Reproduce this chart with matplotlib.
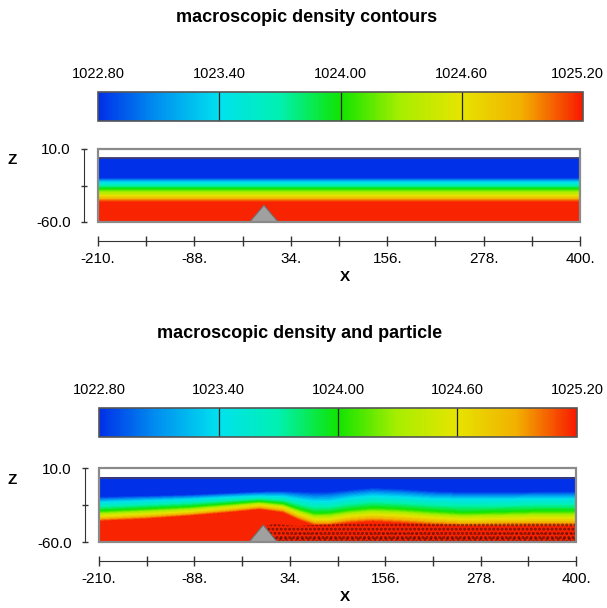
import numpy as np
import matplotlib
matplotlib.use('Agg')
import matplotlib.pyplot as plt
from matplotlib.colors import LinearSegmentedColormap, Normalize
from matplotlib.colorbar import ColorbarBase
from matplotlib.patches import Rectangle, Polygon
from matplotlib.transforms import ScaledTranslation

plt.rcParams['font.family'] = ['Liberation Sans Narrow', 'Liberation Sans', 'DejaVu Sans']
plt.rcParams['hatch.linewidth'] = 1.4

# ---- data ----
cbar_ticks = [1022.80, 1023.40, 1024.00, 1024.60, 1025.20]
x_ticks = [-210, -88, 34, 156, 278, 400]
x_minor = [-149, -27, 95, 217, 339]
z_ticks = [10, -60]
z_minor = [-25]

# top panel: flat stratification, depth (z) of each isopycnal
top_x = [-210, 400]
top_iso = {
    1022.8: [-17.5, -17.5],
    1023.4: [-22.0, -22.0],
    1024.0: [-28.0, -28.0],
    1024.6: [-34.5, -34.5],
    1025.2: [-41.0, -41.0],
}

# bottom panel: isopycnals deformed by the flow over the ridge
bot_x = [-210, -150, -94, -40, -5, 25, 45, 65, 85, 110, 140, 175, 215, 255, 300, 350, 400]
bot_iso = {
    1022.8: [-17.5, -16.5, -15.5, -13.7, -12.5, -12.0, -12.5, -13.0, -12.7, -11.0, -9.0, -10.0, -12.0, -13.0, -13.0, -12.7, -12.7],
    1023.4: [-23.0, -21.5, -20.0, -18.0, -17.0, -17.5, -20.0, -22.0, -22.0, -19.0, -17.0, -18.0, -19.5, -20.0, -20.0, -19.5, -19.5],
    1024.0: [-31.0, -29.0, -27.0, -24.0, -22.0, -24.0, -29.0, -33.0, -32.6, -30.0, -28.0, -29.0, -31.0, -32.6, -32.0, -31.0, -31.0],
    1024.6: [-36.0, -34.0, -31.6, -28.0, -25.5, -28.0, -34.0, -39.0, -39.0, -36.0, -34.5, -35.5, -37.5, -39.0, -38.5, -38.0, -38.0],
    1025.2: [-41.0, -39.0, -36.0, -32.6, -30.0, -33.0, -40.0, -45.0, -45.0, -43.0, -41.5, -43.0, -45.0, -46.0, -46.0, -46.0, -46.0],
}

# particle cloud (upper edge) in the bottom panel, plus the denser layer near the bed
part_x = [5, 15, 30, 45, 60, 100, 150, 200, 250, 300, 350, 400]
part_top = [-44, -43, -44, -45, -44, -43, -43, -42, -43, -42, -42, -42]
part_dense_top = [-56, -54, -53, -52, -52, -53, -52, -52, -53, -52, -52, -52]

# ridge
ridge_x = [-18, 0, 18]
ridge_z = [-60, -44, -60]

surface_z = 1
bed_z = -60

cmap = LinearSegmentedColormap.from_list('dens', [
    (0.0, '#0030e8'), (0.12, '#0090f0'), (0.25, '#00e2ee'),
    (0.375, '#00f0b0'), (0.5, '#10e400'), (0.625, '#a8ee00'),
    (0.75, '#e6e400'), (0.875, '#f2b000'), (1.0, '#f81a00')])
norm = Normalize(1022.8, 1025.2)

W, H = 607, 608
fig = plt.figure(figsize=(W / 100, H / 100), dpi=100)


def fbox(x0, y0, x1, y1):
    return [x0 / W, 1 - y1 / H, (x1 - x0) / W, (y1 - y0) / H]


def panel(title, ty, tx, cb, box, xlab_y, zlab_y, xs, iso, particles=False):
    fig.text(tx / W, 1 - ty / H, title, ha='center', va='center',
             fontsize=13, fontweight='bold')

    # colour bar
    cax = fig.add_axes(fbox(*cb))
    cbar = ColorbarBase(cax, cmap=cmap, norm=norm, orientation='horizontal',
                        ticks=cbar_ticks, format='%.2f', ticklocation='top')
    cax.tick_params(length=0, pad=8, labelsize=10.5)
    cbar.outline.set_edgecolor('#555555')
    cbar.outline.set_linewidth(1.2)
    for v in cbar_ticks[1:-1]:
        cax.axvline(v, color='#202020', lw=0.9)
    # keep the last label inside the figure
    fig.canvas.draw()
    last = cax.get_xticklabels()[-1]
    last.set_horizontalalignment('right')
    shift = (W - 3 - cb[2]) / 100
    last.set_transform(last.get_transform() +
                       ScaledTranslation(shift, 0, fig.dpi_scale_trans))

    # density field
    ax = fig.add_axes(fbox(*box))
    X = np.array([xs] * 7)
    Z = np.array([[bed_z] * len(xs), iso[1025.2], iso[1024.6], iso[1024.0],
                  iso[1023.4], iso[1022.8], [surface_z] * len(xs)])
    C = np.array([[v] * len(xs) for v in [1025.2, 1025.2, 1024.6, 1024.0,
                                           1023.4, 1022.8, 1022.8]])
    ax.contourf(X, Z, C, levels=np.linspace(1022.8, 1025.2, 61),
                cmap=cmap, norm=norm, extend='both', antialiased=False)
    ax.axhline(surface_z, color='#3c3c70', lw=1.3)

    if particles:
        ax.fill_between(part_x, part_top, bed_z, facecolor='none',
                        edgecolor='#2a0805', hatch='....', lw=0, alpha=0.6)
        ax.fill_between(part_x, part_dense_top, bed_z, facecolor='none',
                        edgecolor='#2a0805', hatch='...', lw=0, alpha=0.45)

    ax.add_patch(Polygon(list(zip(ridge_x, ridge_z)), closed=True,
                         fc='#a0a0a0', ec='#707070', lw=0.8, zorder=5))

    ax.set_xlim(-210, 400)
    ax.set_ylim(-60, 10)
    ax.add_patch(Rectangle((0, 0), 1, 1, transform=ax.transAxes, fill=False,
                           ec='#8a8a8a', lw=1.6, clip_on=False, zorder=6))
    for s in ['top', 'right']:
        ax.spines[s].set_visible(False)
    ax.spines['left'].set_position(('outward', 10))
    ax.spines['bottom'].set_position(('outward', 14))
    ax.spines['left'].set_bounds(-60, 10)
    ax.spines['left'].set_color('#333333')
    ax.spines['bottom'].set_color('#333333')

    ax.set_xticks(x_ticks)
    ax.set_xticklabels(['%d.' % t for t in x_ticks])
    ax.set_xticks(x_minor, minor=True)
    ax.set_yticks(z_ticks)
    ax.set_yticklabels(['%.1f' % t for t in z_ticks])
    ax.set_yticks(z_minor, minor=True)
    ax.tick_params(axis='x', which='both', direction='inout', length=7,
                   width=1, color='#333333', labelsize=11, pad=4)
    ax.tick_params(axis='y', which='both', direction='inout', length=5,
                   width=1, color='#333333', labelsize=11, pad=7)

    fig.text(12 / W, 1 - zlab_y / H, 'Z', ha='center', va='center',
             fontsize=11, fontweight='bold')
    fig.text(345 / W, 1 - xlab_y / H, 'X', ha='center', va='center',
             fontsize=11, fontweight='bold')
    return ax


panel('macroscopic density contours', 18, 307, (98, 92, 583, 121),
      (98, 149, 580, 222), 277, 160, top_x, top_iso)
panel('macroscopic density and particle', 333, 300, (99, 408, 577, 437),
      (99, 468, 576, 542), 597, 480, bot_x, bot_iso, particles=True)

fig.savefig('out.png', dpi=100)
